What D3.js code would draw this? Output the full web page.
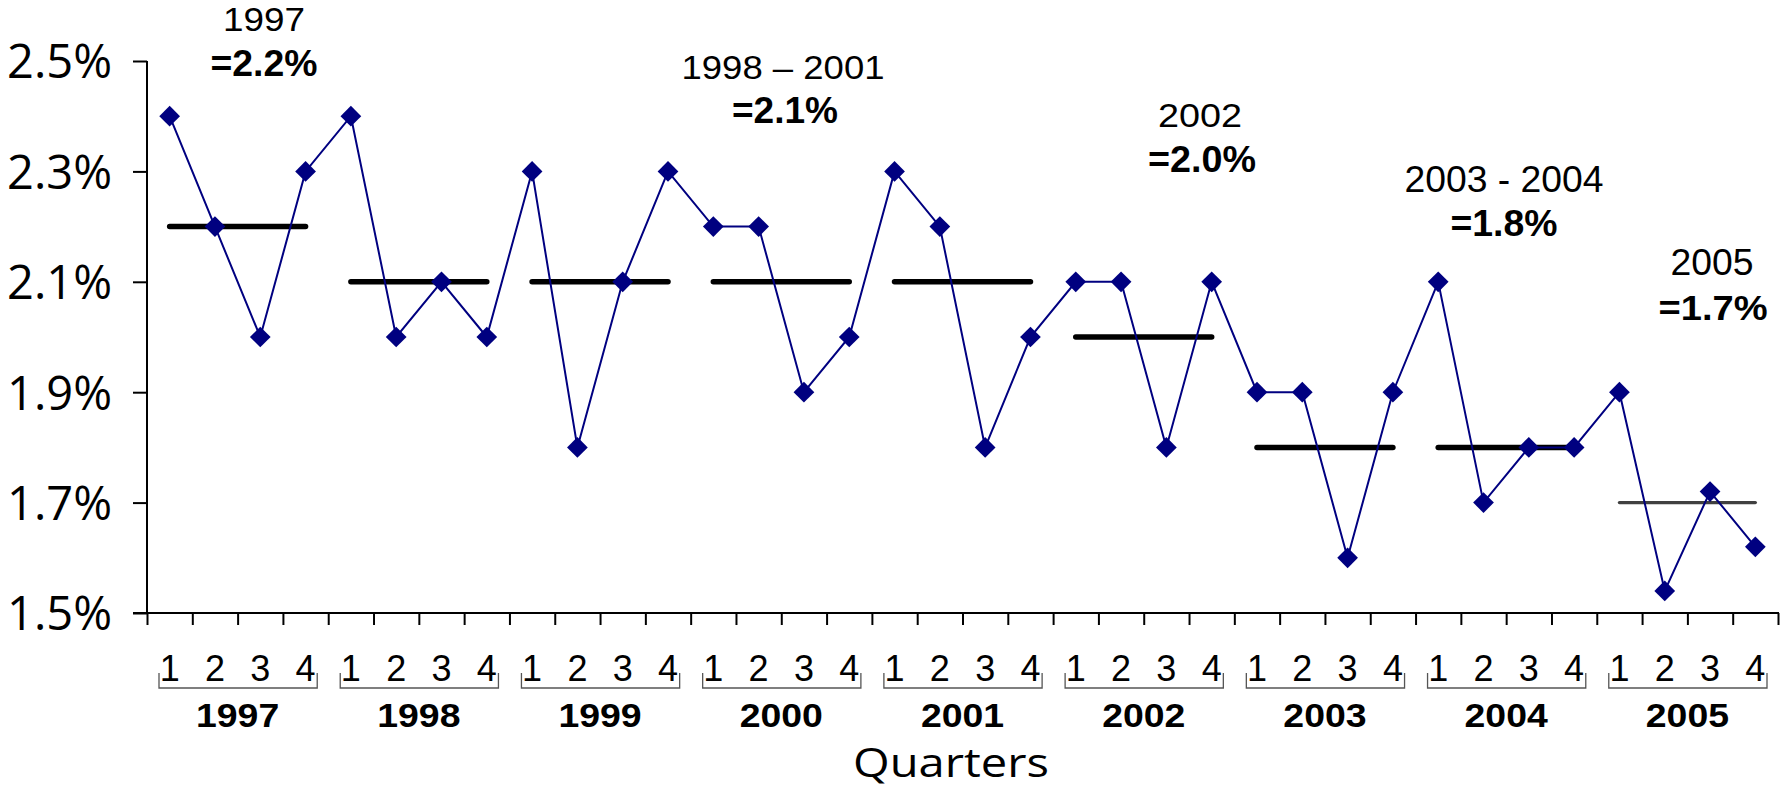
<!DOCTYPE html>
<html>
<head>
<meta charset="utf-8">
<script src="https://cdn.jsdelivr.net/npm/d3@7"></script>
<style>
  html, body { margin: 0; padding: 0; background: #fff; }
  svg { display: block; }
</style>
</head>
<body>
<svg id="chart" width="1782" height="791"></svg>
<script>
// ---------- data ----------
const years = ["1997", "1998", "1999", "2000", "2001", "2002", "2003", "2004", "2005"];
const quarters = ["1", "2", "3", "4"];
const values = [
  2.4, 2.2, 2.0, 2.3,
  2.4, 2.0, 2.1, 2.0,
  2.3, 1.8, 2.1, 2.3,
  2.2, 2.2, 1.9, 2.0,
  2.3, 2.2, 1.8, 2.0,
  2.1, 2.1, 1.8, 2.1,
  1.9, 1.9, 1.6, 1.9,
  2.1, 1.7, 1.8, 1.8,
  1.9, 1.54, 1.72, 1.62
];
const yearMeans = [2.2, 2.1, 2.1, 2.1, 2.1, 2.0, 1.8, 1.8, 1.7];
const yTicks = [1.5, 1.7, 1.9, 2.1, 2.3, 2.5];
const periodLabels = ["1997", "1998 \u2013 2001", "2002", "2003 - 2004", "2005"];
const averageLabels = ["=2.2%", "=2.1%", "=2.0%", "=1.8%", "=1.7%"];
const xTitle = "Quarters";

// ---------- layout ----------
const plotLeft = 147, plotRight = 1778, plotTop = 61, plotBottom = 613;
const annLayout = [
  {cx1: 264, y1: 31, f1: 34, w1: 82, cx2: 264, y2: 76, f2: 36, w2: 107},
  {cx1: 783, y1: 79, f1: 34, w1: 203, cx2: 785, y2: 123, f2: 36, w2: 106},
  {cx1: 1200, y1: 127, f1: 33, w1: 84, cx2: 1202, y2: 172, f2: 36, w2: 108},
  {cx1: 1504, y1: 192, f1: 37, w1: 199, cx2: 1504, y2: 236, f2: 36, w2: 107},
  {cx1: 1712, y1: 275, f1: 37, w1: 83, cx2: 1713, y2: 320, f2: 35, w2: 109}
];

const svg = d3.select("#chart");
const n = values.length;
const x = d3.scaleLinear().domain([0, n]).range([plotLeft, plotRight]);
const y = d3.scaleLinear().domain([1.5, 2.5]).range([plotBottom, plotTop]);
const cx = i => x(i + 0.5);

// ---------- axes ----------
const yAxis = svg.append("g")
  .attr("transform", `translate(${plotLeft},0)`)
  .call(d3.axisLeft(y).tickValues(yTicks).tickSize(14).tickPadding(21)
        .tickFormat(d => d.toFixed(1) + "%"));
yAxis.select(".domain").remove();
yAxis.selectAll("line").attr("stroke", "#000").attr("stroke-width", 2);
yAxis.selectAll("text")
  .attr("font-family", "'Open Sans', 'DejaVu Sans', sans-serif")
  .attr("font-size", 47).attr("fill", "#000").attr("dy", "0.36em");
svg.append("line").attr("x1", plotLeft).attr("x2", plotLeft).attr("y1", y(2.5)).attr("y2", y(1.5))
  .attr("stroke", "#000").attr("stroke-width", 2);

const xAxis = svg.append("g")
  .attr("transform", `translate(0,${plotBottom})`)
  .call(d3.axisBottom(x).tickValues(d3.range(n + 1)).tickSize(12).tickFormat(""));
xAxis.select(".domain").remove();
xAxis.selectAll("line").attr("stroke", "#000").attr("stroke-width", 2);
svg.append("line").attr("x1", plotLeft - 14).attr("x2", plotRight + 1).attr("y1", plotBottom).attr("y2", plotBottom)
  .attr("stroke", "#000").attr("stroke-width", 2);

// quarter labels
const cats = d3.range(n);
svg.append("g").selectAll("text").data(cats).join("text")
  .attr("x", i => cx(i)).attr("y", 681)
  .attr("text-anchor", "middle")
  .attr("font-family", "'Liberation Sans', Arial, sans-serif")
  .attr("font-size", 36).attr("fill", "#000")
  .text(i => quarters[i % 4]);

// brackets
svg.append("g").selectAll("path").data(years).join("path")
  .attr("d", (yr, k) => {
    const x0 = x(k * 4) + 12, x1 = x(k * 4 + 4) - 11;
    return `M${x0},673V688H${x1}V673`;
  })
  .attr("fill", "none").attr("stroke", "#555").attr("stroke-width", 1.3);

// year labels
svg.append("g").selectAll("text").data(years).join("text")
  .attr("transform", (yr, k) => `translate(${x(k * 4 + 2)},727) scale(1.1,1)`)
  .attr("text-anchor", "middle")
  .attr("font-family", "'Liberation Sans', Arial, sans-serif")
  .attr("font-weight", "bold")
  .attr("font-size", 34).attr("fill", "#000")
  .text(d => d);

// x title
svg.append("text")
  .attr("x", 951).attr("y", 777)
  .attr("text-anchor", "middle")
  .attr("font-family", "'Open Sans', 'DejaVu Sans', sans-serif")
  .attr("font-size", 41).attr("fill", "#000")
  .attr("textLength", 196).attr("lengthAdjust", "spacingAndGlyphs")
  .text(xTitle);

// ---------- year mean lines ----------
svg.append("g").selectAll("line").data(yearMeans).join("line")
  .attr("x1", (m, k) => cx(k * 4))
  .attr("x2", (m, k) => cx(k * 4 + 3))
  .attr("y1", m => y(m)).attr("y2", m => y(m))
  .attr("stroke", (m, k) => k === yearMeans.length - 1 ? "#404040" : "#000")
  .attr("stroke-width", (m, k) => k === yearMeans.length - 1 ? 3.3 : 5.5)
  .attr("stroke-linecap", "round");

// ---------- series ----------
const line = d3.line().x((d, i) => cx(i)).y(d => y(d));
svg.append("path").datum(values)
  .attr("d", line).attr("fill", "none")
  .attr("stroke", "#000080").attr("stroke-width", 2);

const diamond = d3.symbol().type(d3.symbolSquare).size(215);
svg.append("g").selectAll("path").data(values).join("path")
  .attr("d", diamond)
  .attr("transform", (d, i) => `translate(${cx(i)},${y(d)}) rotate(45)`)
  .attr("fill", "#000080");

// ---------- annotations ----------
const ann = svg.append("g");
periodLabels.forEach((t, k) => {
  const L = annLayout[k];
  ann.append("text").attr("x", L.cx1).attr("y", L.y1)
    .attr("text-anchor", "middle")
    .attr("font-family", "'Liberation Sans', Arial, sans-serif")
    .attr("font-size", L.f1).attr("fill", "#000")
    .attr("textLength", L.w1).attr("lengthAdjust", "spacingAndGlyphs")
    .text(t);
  ann.append("text").attr("x", L.cx2).attr("y", L.y2)
    .attr("text-anchor", "middle")
    .attr("font-family", "'Liberation Sans', Arial, sans-serif")
    .attr("font-weight", "bold")
    .attr("font-size", L.f2).attr("fill", "#000")
    .attr("textLength", L.w2).attr("lengthAdjust", "spacingAndGlyphs")
    .text(averageLabels[k]);
});
</script>
</body>
</html>
